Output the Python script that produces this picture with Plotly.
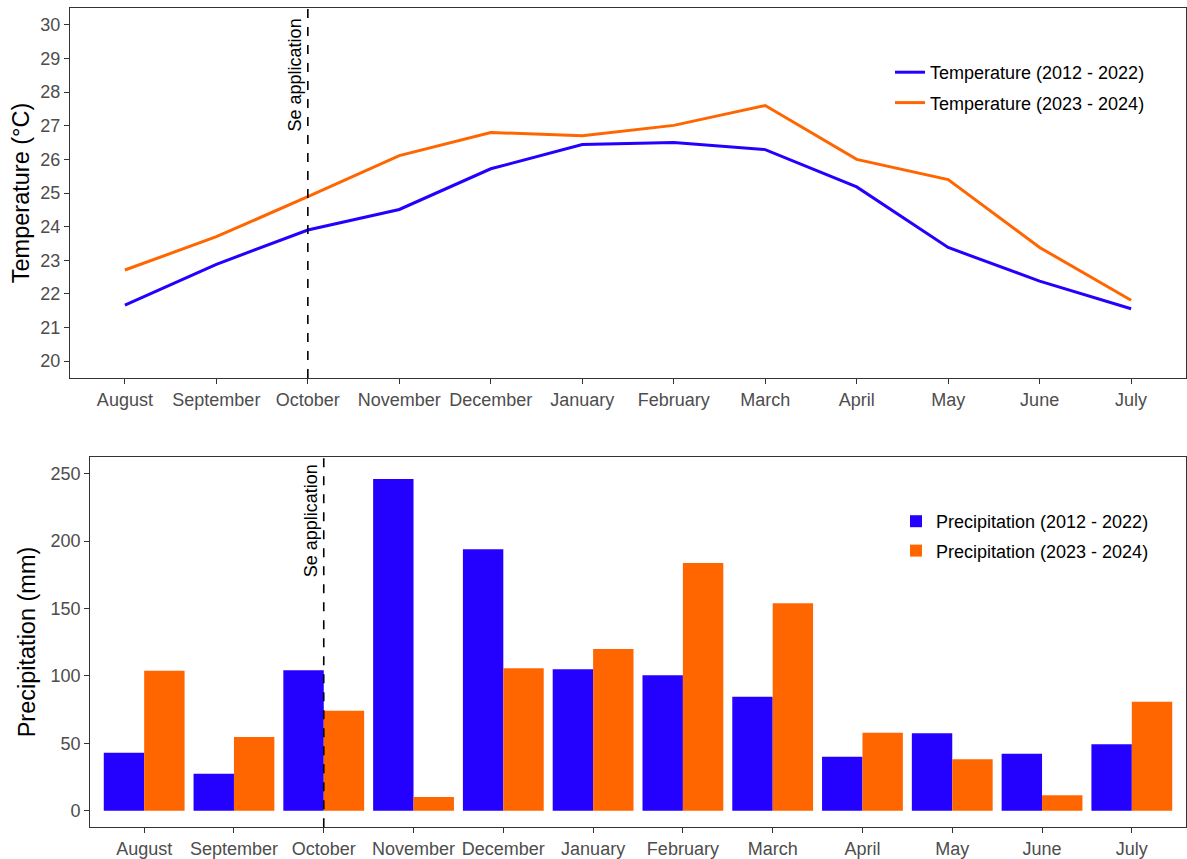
import plotly.graph_objects as go

months = ["August", "September", "October", "November", "December", "January",
          "February", "March", "April", "May", "June", "July"]

temp_2012_2022 = [21.67, 22.88, 23.90, 24.51, 25.72, 26.44, 26.50, 26.29, 25.18, 23.38, 22.38, 21.56]
temp_2023_2024 = [22.71, 23.70, 24.89, 26.11, 26.80, 26.70, 27.01, 27.60, 26.00, 25.40, 23.38, 21.81]

precip_2012_2022 = [43.0, 27.4, 104.2, 246.1, 193.9, 104.9, 100.4, 84.6, 40.1, 57.4, 42.3, 49.3]
precip_2023_2024 = [103.9, 54.7, 74.2, 10.2, 105.6, 120.0, 183.8, 153.9, 57.9, 38.1, 11.4, 80.9]

event_month = "October"
event_label = "Se application"

BLUE = "#2400FF"
ORANGE = "#FF6600"
W, H = 1187, 859
FONT = "Liberation Sans, Arial, sans-serif"

fig = go.Figure()

fig.add_trace(go.Scatter(x=months, y=temp_2012_2022, mode="lines", name="Temperature (2012 - 2022)",
                         line=dict(color=BLUE, width=3), xaxis="x", yaxis="y",
                         legend="legend", legendgroup="a"))
fig.add_trace(go.Scatter(x=months, y=temp_2023_2024, mode="lines", name="Temperature (2023 - 2024)",
                         line=dict(color=ORANGE, width=3), xaxis="x", yaxis="y",
                         legend="legend", legendgroup="b"))

fig.add_trace(go.Bar(x=months, y=precip_2012_2022, name="Precipitation (2012 - 2022)",
                     marker=dict(color=BLUE, line=dict(width=0)), xaxis="x2", yaxis="y2",
                     legend="legend2", legendgroup="c"))
fig.add_trace(go.Bar(x=months, y=precip_2023_2024, name="Precipitation (2023 - 2024)",
                     marker=dict(color=ORANGE, line=dict(width=0)), xaxis="x2", yaxis="y2",
                     legend="legend2", legendgroup="d"))

axis_common = dict(showline=True, mirror=True, linecolor="#333333", linewidth=1.3,
                   ticks="outside", ticklen=5, tickcolor="#333333", tickwidth=1.3,
                   showgrid=False, zeroline=False, automargin=False,
                   tickfont=dict(family=FONT, size=18, color="#4D4D4D"))

fig.update_layout(
    width=W, height=H,
    margin=dict(l=0, r=0, t=0, b=0),
    paper_bgcolor="white", plot_bgcolor="white",
    font=dict(family=FONT, color="black"),
    barmode="group", bargap=0.1, bargroupgap=0,
    xaxis=dict(domain=[70 / W, 1186 / W], type="category", categoryorder="array",
               categoryarray=months, range=[-0.6, 11.6], anchor="y", **axis_common),
    yaxis=dict(domain=[1 - 378 / H, 1 - 8 / H], range=[19.5, 30.5], dtick=1, anchor="x",
               title=dict(text="Temperature (°C)", font=dict(family=FONT, size=23.5, color="black"),
                          standoff=3),
               **axis_common),
    xaxis2=dict(domain=[90.3 / W, 1185.7 / W], type="category", categoryorder="array",
                categoryarray=months, range=[-0.6, 11.6], anchor="y2", **axis_common),
    yaxis2=dict(domain=[1 - 827.3 / H, 1 - 456.7 / H], range=[-12.3, 262.6], dtick=50, anchor="x2",
                title=dict(text="Precipitation (mm)", font=dict(family=FONT, size=23.5, color="black"),
                           standoff=8),
                **axis_common),
    legend=dict(x=890 / W, y=1 - 54 / H, xanchor="left", yanchor="top",
                font=dict(family=FONT, size=18, color="black"), bgcolor="rgba(0,0,0,0)",
                tracegroupgap=4, itemwidth=30),
    legend2=dict(x=896 / W, y=1 - 503 / H, xanchor="left", yanchor="top",
                 font=dict(family=FONT, size=18, color="black"), bgcolor="rgba(0,0,0,0)",
                 tracegroupgap=3, itemwidth=30),
)

for xr, yr in (("x", "y domain"), ("x2", "y2 domain")):
    fig.add_shape(type="line", xref=xr, yref=yr, x0=event_month, x1=event_month, y0=0, y1=1,
                  line=dict(color="black", width=1.6, dash="dash"), layer="above")

fig.add_annotation(x=event_month, y=28.52, xref="x", yref="y", text=event_label, textangle=-90,
                   showarrow=False, xanchor="center", yanchor="middle", xshift=-13,
                   font=dict(family=FONT, size=18, color="black"))
fig.add_annotation(x=event_month, y=215.3, xref="x2", yref="y2", text=event_label, textangle=-90,
                   showarrow=False, xanchor="center", yanchor="middle", xshift=-12,
                   font=dict(family=FONT, size=18, color="black"))

fig.write_html("out.html")
